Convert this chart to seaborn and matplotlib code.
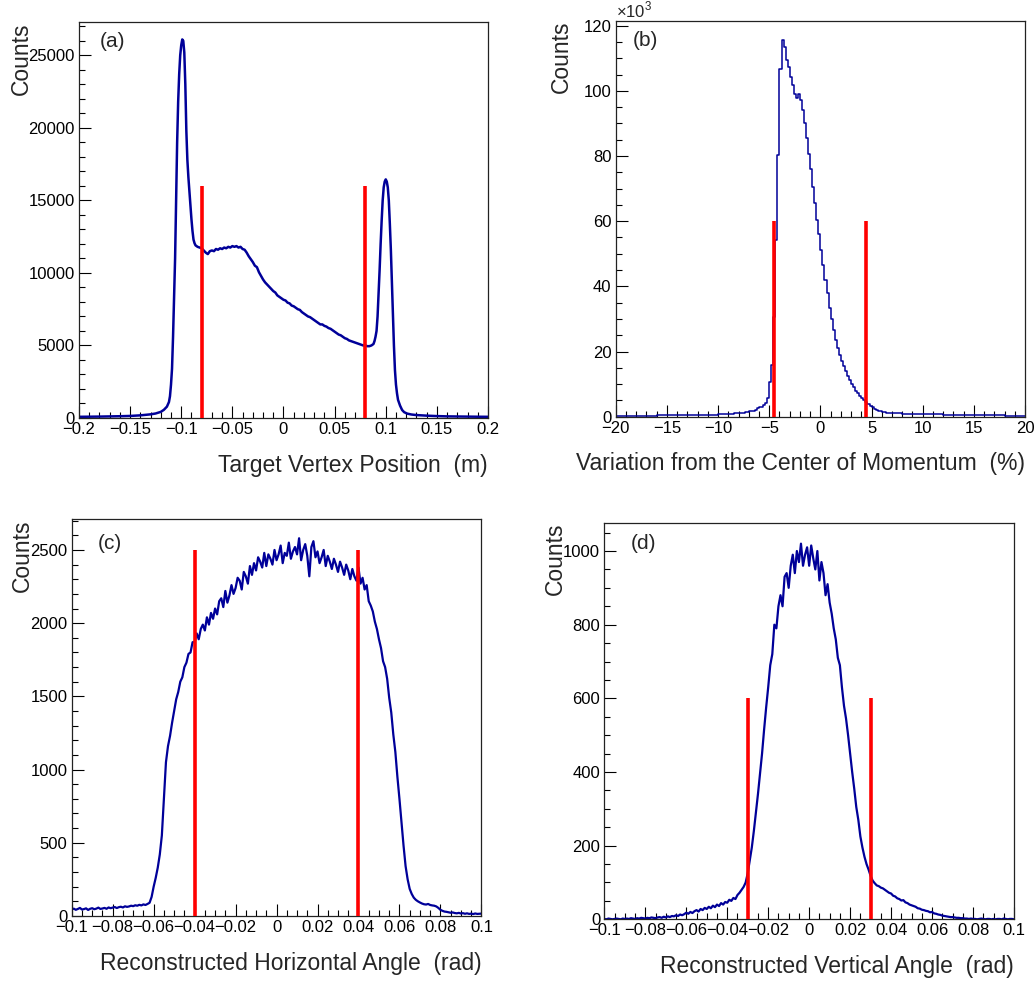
import numpy as np
import matplotlib
matplotlib.use('Agg')
import matplotlib.pyplot as plt
from matplotlib.ticker import MultipleLocator, FuncFormatter
import seaborn as sns

# -------------------------
# Data
# -------------------------

# (a) target vertex position (m) -> counts
a_pos = [-0.200, -0.190, -0.180, -0.170, -0.160, -0.150, -0.140, -0.130, -0.125, -0.120,
         -0.117, -0.114, -0.112, -0.111, -0.110, -0.109, -0.108, -0.107, -0.106, -0.105,
         -0.104, -0.103, -0.102, -0.101, -0.100, -0.099, -0.098, -0.097, -0.096, -0.095,
         -0.094, -0.093, -0.092, -0.091, -0.090, -0.089, -0.088, -0.087, -0.086,
         -0.084, -0.082, -0.080, -0.078, -0.076, -0.074, -0.072, -0.070, -0.068, -0.066,
         -0.064, -0.062, -0.060, -0.058, -0.056, -0.054, -0.052, -0.050, -0.048, -0.046,
         -0.044, -0.042, -0.040, -0.038, -0.036, -0.034, -0.032, -0.030, -0.028, -0.026,
         -0.024, -0.022, -0.020, -0.018, -0.016, -0.014, -0.012, -0.010, -0.008, -0.006,
         -0.004, -0.002, 0.000, 0.002, 0.004, 0.006, 0.008, 0.010, 0.012, 0.014,
         0.016, 0.018, 0.020, 0.022, 0.024, 0.026, 0.028, 0.030, 0.032, 0.034,
         0.036, 0.038, 0.040, 0.042, 0.044, 0.046, 0.048, 0.050, 0.052, 0.054,
         0.056, 0.058, 0.060, 0.062, 0.064, 0.066, 0.068, 0.070, 0.072, 0.074,
         0.076, 0.078, 0.080, 0.082, 0.084, 0.086, 0.088, 0.089, 0.090, 0.091,
         0.092, 0.093, 0.094, 0.095, 0.096, 0.097, 0.098, 0.099, 0.100, 0.101,
         0.102, 0.103, 0.104, 0.105, 0.106, 0.107, 0.108, 0.109, 0.110, 0.111,
         0.112, 0.114, 0.116, 0.118, 0.121, 0.125, 0.130, 0.140, 0.150, 0.160,
         0.170, 0.180, 0.190, 0.200]
a_counts = [80, 85, 95, 105, 120, 140, 180, 250, 310, 420,
            560, 780, 1100, 1500, 2300, 3400, 5600, 8300, 11000, 14800,
            19000, 21800, 23700, 25000, 25700, 26100, 26000, 25200, 23000, 19800,
            17800, 16600, 15600, 14700, 13700, 12900, 12300, 12050, 11900,
            11800, 11750, 11700, 11550, 11400, 11300, 11500, 11550, 11500, 11650,
            11600, 11700, 11650, 11750, 11700, 11800, 11750, 11850, 11800, 11850,
            11750, 11800, 11650, 11600, 11400, 11150, 10950, 10750, 10500, 10400,
            10050, 9800, 9550, 9350, 9200, 9050, 8900, 8750, 8650, 8450,
            8350, 8250, 8150, 8100, 7950, 7900, 7750, 7700, 7600, 7500,
            7450, 7300, 7200, 7100, 7000, 6950, 6850, 6750, 6650, 6550,
            6450, 6450, 6350, 6300, 6200, 6150, 6050, 5950, 5850, 5750,
            5700, 5600, 5500, 5450, 5350, 5300, 5250, 5200, 5150, 5100,
            5050, 5000, 5000, 4950, 4950, 5000, 5100, 5300, 5600, 6000,
            7000, 8600, 10200, 12000, 13600, 15000, 15900, 16300, 16450, 16300,
            15900, 15000, 13400, 11600, 9500, 7200, 5000, 3300, 2300, 1700,
            1250, 850, 550, 400, 300, 240, 200, 160, 130, 110,
            100, 90, 85, 80]
a_cuts = [-0.08, 0.08]
a_cut_height = 16000

# (b) momentum deviation (%) -> counts in thousands (left bin edges, last = axis end)
b_edges = [-20, -18, -16, -14, -12, -11, -10, -9, -8.4, -7.8,
           -7.4, -7.0, -6.6, -6.4, -6.2, -6.0, -5.8, -5.6, -5.4, -5.2,
           -5.0, -4.8, -4.6, -4.4, -4.2, -4.0, -3.8, -3.6, -3.4, -3.2,
           -3.0, -2.8, -2.6, -2.4, -2.2, -2.0, -1.8, -1.6, -1.4, -1.2,
           -1.0, -0.8, -0.6, -0.4, -0.2, 0.0, 0.2, 0.4, 0.6, 0.8,
           1.0, 1.2, 1.4, 1.6, 1.8, 2.0, 2.2, 2.4, 2.6, 2.8,
           3.0, 3.2, 3.4, 3.6, 3.8, 4.0, 4.2, 4.4, 4.6, 4.8,
           5.0, 5.2, 5.4, 5.6, 5.8, 6.0, 6.4, 7.0, 8.0, 9.0,
           10.0, 12.0, 14.0, 16.0, 18.0, 20.0]
b_counts_k = [0.30, 0.35, 0.40, 0.45, 0.55, 0.65, 0.75, 0.85, 1.0, 1.2,
              1.4, 1.6, 1.9, 2.2, 2.6, 2.9, 3.1, 3.5, 4.1, 5.6,
              10.7, 15.8, 30.7, 54.2, 80.2, 106.8, 115.7, 113.4, 109.3, 107.3,
              104.2, 101.7, 99.1, 97.9, 98.9, 97.1, 94.0, 90.0, 85.4, 80.5,
              76.0, 70.5, 65.5, 60.5, 56.0, 51.0, 46.5, 42.0, 38.0, 33.5,
              30.0, 26.5, 23.5, 21.0, 19.0, 17.0, 15.5, 14.0, 12.5, 11.2,
              10.0, 9.0, 8.0, 7.2, 6.3, 5.6, 5.0, 4.4, 3.9, 3.4,
              2.9, 2.5, 2.1, 1.8, 1.6, 1.4, 1.25, 1.1, 0.95, 0.85,
              0.75, 0.6, 0.5, 0.4, 0.35, 0.35]
b_cuts = [-4.5, 4.5]
b_cut_height = 60

# (c) horizontal angle, bins of 1 mrad from -0.1 rad
c_start, c_width = -0.100, 0.001
c_counts = [45, 50, 42, 48, 55, 44, 47, 52, 41, 49,
            53, 46, 50, 57, 48, 51, 55, 49, 58, 53,
            57, 61, 54, 60, 63, 58, 66, 62, 65, 70,
            67, 73, 70, 76, 72, 79, 75, 82, 90, 130,
            200, 260, 330, 420, 550, 800, 1050, 1160, 1230, 1320,
            1400, 1480, 1530, 1600, 1630, 1700, 1730, 1790, 1800, 1870,
            1870, 1930, 1890, 1960, 1990, 1950, 2040, 1990, 2070, 2030,
            2100, 2060, 2150, 2170, 2110, 2220, 2140, 2190, 2260, 2200,
            2240, 2310, 2290, 2230, 2350, 2320, 2270, 2390, 2330, 2410,
            2360, 2450, 2420, 2380, 2480, 2390, 2470, 2440, 2400, 2500,
            2430, 2470, 2530, 2410, 2480, 2460, 2550, 2440, 2490, 2520,
            2470, 2580, 2430, 2500, 2540, 2460, 2320, 2520, 2560, 2450,
            2490, 2410, 2450, 2500, 2390, 2460, 2420, 2370, 2440, 2400,
            2350, 2420, 2380, 2330, 2400, 2360, 2300, 2370, 2320, 2290,
            2380, 2270, 2310, 2230, 2260, 2150, 2120, 2080, 2010, 1960,
            1890, 1830, 1740, 1700, 1620, 1490, 1390, 1240, 1120, 950,
            800, 640, 480, 340, 250, 185, 150, 125, 110, 100,
            92, 85, 80, 78, 82, 75, 72, 70, 65, 55,
            42, 35, 30, 28, 25, 22, 24, 20, 18, 21,
            17, 19, 15, 18, 14, 16, 13, 17, 14, 15,
            16]
c_cuts = [-0.04, 0.04]
c_cut_height = 2500

# (d) vertical angle, bins of 1 mrad from -0.1 rad
d_start, d_width = -0.100, 0.001
d_counts = [1, 0, 2, 1, 0, 1, 2, 1, 0, 2,
            1, 2, 1, 3, 2, 1, 3, 2, 4, 3,
            2, 4, 3, 5, 4, 3, 5, 6, 4, 7,
            5, 8, 6, 9, 8, 11, 9, 13, 11, 14,
            18, 15, 20, 17, 22, 25, 21, 28, 25, 31,
            28, 34, 30, 37, 33, 40, 36, 44, 40, 47,
            45, 53, 50, 58, 55, 66, 72, 80, 88, 100,
            125, 160, 195, 240, 290, 340, 395, 450, 515, 575,
            630, 690, 720, 800, 790, 850, 880, 850, 930, 940,
            900, 960, 990, 940, 1000, 970, 1020, 960, 990, 1010,
            960, 1015, 980, 950, 1000, 920, 970, 940, 880, 910,
            860, 830, 790, 760, 710, 690, 630, 580, 545, 500,
            450, 400, 355, 305, 270, 225, 195, 170, 150, 135,
            118, 105, 98, 92, 90, 86, 84, 80, 76, 72,
            70, 64, 62, 57, 55, 51, 52, 46, 44, 40,
            38, 36, 34, 30, 29, 26, 25, 23, 22, 19,
            20, 16, 15, 13, 12, 10, 9, 8, 7, 6,
            6, 5, 4, 4, 3, 3, 2, 2, 1, 2,
            1, 1, 0, 1, 2, 1, 0, 1, 1, 0,
            1, 0, 1, 1, 0, 2, 1, 0, 1, 1,
            0]
d_cuts = [-0.03, 0.03]
d_cut_height = 600

c_pos = c_start + c_width * np.arange(len(c_counts))
d_pos = d_start + d_width * np.arange(len(d_counts))

# -------------------------
# Style
# -------------------------
sns.set_style("ticks")
plt.rcParams['font.family'] = ['Liberation Sans', 'DejaVu Sans']
plt.rcParams['mathtext.fontset'] = 'custom'
plt.rcParams['mathtext.rm'] = 'Liberation Sans'

HIST = '#000099'
CUT = '#ff0000'

fig = plt.figure(figsize=(10.35, 9.83), dpi=100)


def fmt(v, pos):
    v = round(v, 6) + 0.0
    if abs(v) < 1e-9:
        return '0'
    return ('%g' % v).replace('-', '\u2212')


def dress(ax, xlim, ylim, xmaj, xmin, ymaj, ymin, xtitle, tag, ylab_off, tag_xy):
    ax.set_xlim(*xlim)
    ax.set_ylim(*ylim)
    ax.xaxis.set_major_locator(MultipleLocator(xmaj))
    ax.xaxis.set_minor_locator(MultipleLocator(xmin))
    ax.yaxis.set_major_locator(MultipleLocator(ymaj))
    ax.yaxis.set_minor_locator(MultipleLocator(ymin))
    ax.xaxis.set_major_formatter(FuncFormatter(fmt))
    ax.yaxis.set_major_formatter(FuncFormatter(fmt))
    ax.tick_params(which='both', direction='in', top=False, right=False,
                   labelsize=12, pad=3, width=0.8, colors='black')
    ax.tick_params(which='major', length=8.5)
    ax.tick_params(which='minor', length=4.3)
    for sp in ax.spines.values():
        sp.set_visible(True)
        sp.set_linewidth(0.9)
        sp.set_color('#222222')
    ax.set_xlabel('')
    ax.set_ylabel('')
    ax.text(1.0, -0.119, xtitle, transform=ax.transAxes, ha='right', va='center',
            fontsize=16.5)
    ax.text(ylab_off, 1.0, 'Counts', transform=ax.transAxes, rotation=90,
            ha='center', va='top', fontsize=16.5)
    ax.text(tag_xy[0], tag_xy[1], tag, transform=ax.transAxes, ha='left',
            va='center', fontsize=15)


# -------------------------
# (a) Target vertex position
# -------------------------
ax_a = fig.add_axes([0.0763, 0.5748, 0.3952, 0.4028])
sns.lineplot(x=a_pos, y=a_counts, ax=ax_a, color=HIST, linewidth=1.8,
             estimator=None, sort=False)
ax_a.vlines(a_cuts, 0, a_cut_height, colors=CUT, linewidth=2.6, zorder=5)
dress(ax_a, (-0.2, 0.2), (0, 27300), 0.05, 0.01, 5000, 1000,
      'Target Vertex Position  (m)', '(a)', -0.142, (0.051, 0.952))

# -------------------------
# (b) Momentum deviation
# -------------------------
ax_b = fig.add_axes([0.5949, 0.5761, 0.3955, 0.4028])
sns.lineplot(x=b_edges, y=b_counts_k, ax=ax_b, color=HIST, linewidth=1.1,
             estimator=None, sort=False, drawstyle='steps-post')
ax_b.vlines(b_cuts, 0, b_cut_height, colors=CUT, linewidth=2.6, zorder=5)
dress(ax_b, (-20, 20), (0, 121.5), 5, 1, 20, 5,
      'Variation from the Center of Momentum  (%)', '(b)', -0.132, (0.042, 0.951))
ax_b.text(0.0, 1.002, r'$\times10^{3}$', transform=ax_b.transAxes, ha='left',
          va='bottom', fontsize=12)

# -------------------------
# (c) Horizontal angle
# -------------------------
ax_c = fig.add_axes([0.0693, 0.0682, 0.3958, 0.4036])
sns.lineplot(x=c_pos, y=c_counts, ax=ax_c, color=HIST, linewidth=1.6,
             estimator=None, sort=False)
ax_c.vlines(c_cuts, 0, c_cut_height, colors=CUT, linewidth=2.6, zorder=5)
dress(ax_c, (-0.1, 0.1), (0, 2710), 0.02, 0.005, 500, 100,
      'Reconstructed Horizontal Angle  (rad)', '(c)', -0.12, (0.063, 0.94))

# -------------------------
# (d) Vertical angle
# -------------------------
ax_d = fig.add_axes([0.5839, 0.0648, 0.3958, 0.4035])
sns.lineplot(x=d_pos, y=d_counts, ax=ax_d, color=HIST, linewidth=1.6,
             estimator=None, sort=False)
ax_d.vlines(d_cuts, 0, d_cut_height, colors=CUT, linewidth=2.6, zorder=5)
dress(ax_d, (-0.1, 0.1), (0, 1077), 0.02, 0.005, 200, 50,
      'Reconstructed Vertical Angle  (rad)', '(d)', -0.12, (0.064, 0.948))

plt.savefig('out.png', dpi=100)
